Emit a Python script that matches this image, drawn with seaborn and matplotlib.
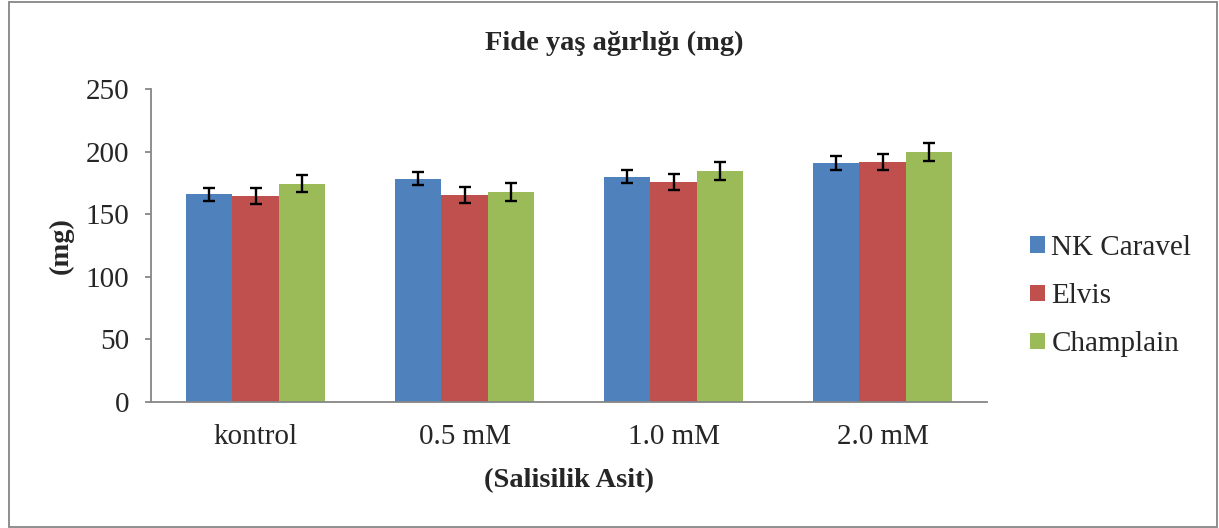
import pandas as pd
import seaborn as sns
import matplotlib.pyplot as plt
from matplotlib.patches import Rectangle

# chart data
categories = ['kontrol', '0.5 mM', '1.0 mM', '2.0 mM']
varieties = ['NK Caravel', 'Elvis', 'Champlain']
nk_caravel = [166, 178.5, 180, 191]
elvis = [164.5, 165.5, 175.5, 191.5]
champlain = [174.5, 167.5, 184.5, 199.5]
nk_caravel_err = [5.2, 5.2, 5.2, 5.3]
elvis_err = [6.4, 6.4, 6.4, 6.5]
champlain_err = [7.0, 7.2, 7.2, 7.0]
colors = ['#4F81BD', '#C0504D', '#9BBB59']

# long format table for seaborn
df = pd.DataFrame({
    'doz': categories * 3,
    'cesit': [v for v in varieties for _ in categories],
    'mg': nk_caravel + elvis + champlain,
})
errors = [nk_caravel_err, elvis_err, champlain_err]

sns.set_style('white')
plt.rcParams['font.family'] = ['Liberation Serif', 'DejaVu Serif']

fig = plt.figure(figsize=(12.19, 5.28), dpi=100)
ax = fig.add_axes([0.1239, 0.2386, 0.6858, 0.5928])

sns.barplot(data=df, x='doz', y='mg', hue='cesit', order=categories,
            hue_order=varieties, palette=colors, saturation=1, width=0.667,
            errorbar=None, linewidth=0, ax=ax)

# error bars on top of each bar
for cont, err in zip(ax.containers, errors):
    xs = [b.get_x() + b.get_width() / 2 for b in cont]
    ys = [b.get_height() for b in cont]
    ax.errorbar(xs, ys, yerr=err, fmt='none', ecolor='black',
                elinewidth=1.7, capsize=4, capthick=1.7)

ax.set_xlim(-0.5, 3.5)
ax.set_ylim(0, 250)
ax.set_yticks(range(0, 251, 50))

for side in ['top', 'right']:
    ax.spines[side].set_visible(False)
for side in ['left', 'bottom']:
    ax.spines[side].set_color('#868686')
    ax.spines[side].set_linewidth(1.3)

ax.tick_params(axis='y', length=4.5, width=1.3, color='#868686',
               direction='out', left=True, pad=11, labelsize=21)
ax.tick_params(axis='x', length=0, pad=16, labelsize=21)

ax.set_xlabel('(Salisilik Asit)', fontsize=20.5, fontweight='bold')
ax.xaxis.label.set_va('center')
ax.xaxis.set_label_coords(0.5, -0.252)
ax.set_ylabel('(mg)', fontsize=20.5, fontweight='bold')
ax.yaxis.label.set_va('center')
ax.yaxis.set_label_coords(-0.108, 0.5)

fig.text(0.504, 0.9186, 'Fide yaş ağırlığı (mg)', ha='center', va='center',
         fontsize=20.5, fontweight='bold')

handles, labels = ax.get_legend_handles_labels()
ax.legend(handles, labels, loc='center left', bbox_to_anchor=(0.845, 0.439),
          bbox_transform=fig.transFigure, frameon=False, fontsize=21,
          handlelength=0.5, handleheight=0.5, handletextpad=0.23,
          labelspacing=0.76, borderpad=0, borderaxespad=0)

# outer chart frame
fig.patches.append(Rectangle((0.007, 0.002), 0.9914, 0.9943,
                             transform=fig.transFigure, fill=False,
                             edgecolor='#868686', linewidth=1.3))

fig.savefig('out.png', dpi=100)
